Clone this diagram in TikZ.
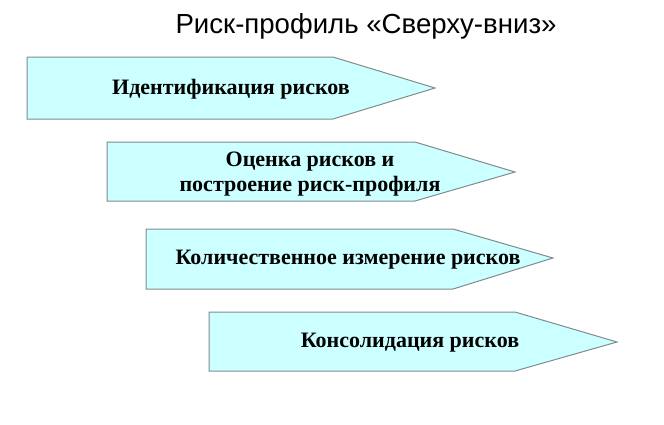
\documentclass[tikz,border=0pt]{standalone}
\usepackage{fontspec}
\setmainfont{Liberation Serif}
\newfontfamily\titlefont{Liberation Sans}
\usetikzlibrary{positioning}

\definecolor{riskfill}{RGB}{204,255,255}
\definecolor{riskline}{RGB}{128,140,140}

\begin{document}
\begin{tikzpicture}[x=1pt, y=-1pt,
    riskarrow/.style={fill=riskfill, draw=riskline, line width=1pt, line join=miter},
    risktext/.style={font=\fontsize{22}{25}\selectfont\bfseries, align=center, inner sep=0pt}]

  \useasboundingbox (0,0) rectangle (664,424);

  \node[font=\titlefont\fontsize{27.6}{33}\selectfont, anchor=base] (title) at (366,33)
    {Риск-профиль «Сверху-вниз»};

  \draw[riskarrow] (27,57) -- (333,57) -- (435,88) -- (333,119) -- (27,119) -- cycle;
  \node[risktext] (ident) at (231,89) {Идентификация рисков};

  \draw[riskarrow] (107,142) -- (415,142) -- (515,172) -- (415,201) -- (107,201) -- cycle;
  \node[risktext] (assess) at (310,174) {Оценка рисков и\\построение риск-профиля};

  \draw[riskarrow] (146,229) -- (453,229) -- (553,258) -- (453,289) -- (146,289) -- cycle;
  \node[risktext] (measure) at (348,260) {Количественное измерение рисков};

  \draw[riskarrow] (209,312) -- (515,312) -- (617,342) -- (515,371) -- (209,371) -- cycle;
  \node[risktext] (consol) at (410,343) {Консолидация рисков};
\end{tikzpicture}
\end{document}
